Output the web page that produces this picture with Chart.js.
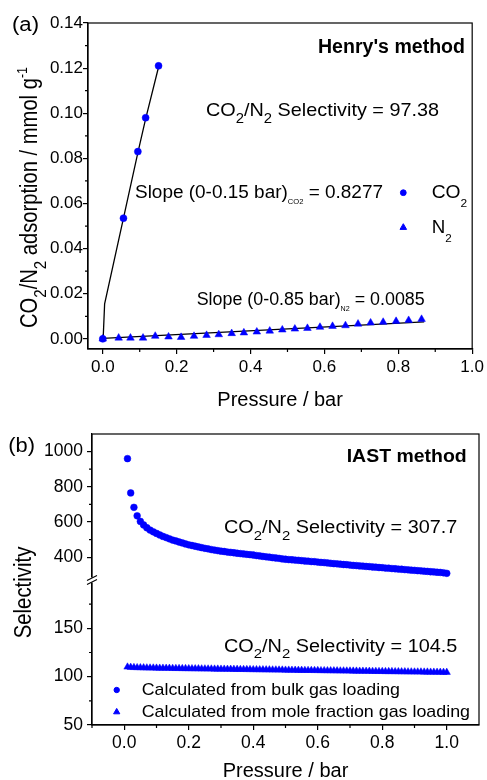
<!DOCTYPE html>
<html lang="en">
<head>
<meta charset="utf-8" />
<title>CO2/N2 selectivity – Henry's and IAST method</title>
<script src="https://cdn.jsdelivr.net/npm/chart.js@4.4.0/dist/chart.umd.min.js"></script>
<style>
  html, body { margin: 0; padding: 0; background: #fff; }
  #wrap { position: relative; width: 487px; height: 780px; overflow: hidden; }
  canvas { position: absolute; left: 0; }
  #chartA { top: 0; }
  #chartB { top: 412px; }
</style>
</head>
<body>
<div id="wrap">
  <canvas id="chartA" width="487" height="412"></canvas>
  <canvas id="chartB" width="487" height="368"></canvas>
</div>
<script>
// ---------- (a) Henry's method ----------
const co2Pressure = [0.0, 0.056, 0.095, 0.116, 0.151];
const co2Uptake   = [0.0, 0.0535, 0.083, 0.098, 0.121];
const n2Pressure = [0.0, 0.043, 0.075, 0.109, 0.142, 0.178, 0.212, 0.247, 0.281, 0.314, 0.349, 0.382, 0.417,
                    0.452, 0.486, 0.52, 0.554, 0.588, 0.622, 0.657, 0.691, 0.725, 0.759, 0.794, 0.828, 0.863];
const n2Uptake   = [0.0, 0.0004, 0.0004, 0.0004, 0.0012, 0.0009, 0.0007, 0.0012, 0.0016, 0.0019, 0.0024, 0.0027, 0.0031,
                    0.0035, 0.0040, 0.0044, 0.0047, 0.0052, 0.0056, 0.0059, 0.0066, 0.0071, 0.0074, 0.0078, 0.0082, 0.0087];
// fitted lines
const co2FitPressure = [0.001, 0.005, 0.056, 0.095, 0.116, 0.151];
const co2FitUptake   = [0.0, 0.0155, 0.0535, 0.0825, 0.0975, 0.1205];
const n2FitPressure = [0.0, 0.87];
const n2FitUptake   = [0.0002, 0.0075];

const xTicksA = [0, 0.2, 0.4, 0.6, 0.8, 1.0];
const xMinorA = [0.1, 0.3, 0.5, 0.7, 0.9];
const yTicksA = [0, 0.02, 0.04, 0.06, 0.08, 0.10, 0.12, 0.14];
const yMinorA = [0.01, 0.03, 0.05, 0.07, 0.09, 0.11, 0.13];

// ---------- (b) IAST method ----------
const iastPressure = [
  0.01, 0.02, 0.03, 0.04, 0.05, 0.06, 0.07, 0.08, 0.09, 0.10,
  0.11, 0.12, 0.13, 0.14, 0.15, 0.16, 0.17, 0.18, 0.19, 0.20,
  0.21, 0.22, 0.23, 0.24, 0.25, 0.26, 0.27, 0.28, 0.29, 0.30,
  0.31, 0.32, 0.33, 0.34, 0.35, 0.36, 0.37, 0.38, 0.39, 0.40,
  0.41, 0.42, 0.43, 0.44, 0.45, 0.46, 0.47, 0.48, 0.49, 0.50,
  0.51, 0.52, 0.53, 0.54, 0.55, 0.56, 0.57, 0.58, 0.59, 0.60,
  0.61, 0.62, 0.63, 0.64, 0.65, 0.66, 0.67, 0.68, 0.69, 0.70,
  0.71, 0.72, 0.73, 0.74, 0.75, 0.76, 0.77, 0.78, 0.79, 0.80,
  0.81, 0.82, 0.83, 0.84, 0.85, 0.86, 0.87, 0.88, 0.89, 0.90,
  0.91, 0.92, 0.93, 0.94, 0.95, 0.96, 0.97, 0.98, 0.99, 1.00
];
// Calculated from bulk gas loading
const bulkSelectivity = [
  960, 765, 683, 635, 603, 583, 567, 554, 544, 535,
  526, 518, 511, 504, 497, 492, 486, 481, 475, 470,
  466, 462, 458, 454, 450, 447, 443, 440, 437, 434,
  432, 429, 427, 425, 422, 420, 418, 416, 414, 412,
  409, 407, 404, 402, 400, 397, 395, 393, 390, 388,
  386, 385, 383, 382, 380, 378, 377, 375, 374, 372,
  370, 369, 367, 365, 363, 362, 360, 358, 357, 355,
  353, 352, 350, 349, 347, 346, 344, 343, 341, 340,
  338, 337, 335, 334, 332, 331, 329, 328, 326, 325,
  323, 322, 320, 319, 317, 316, 314, 313, 311, 308
];
// Calculated from mole fraction gas loading
const moleSelectivity = [
  110.0, 109.7, 109.5, 109.4, 109.3, 109.2, 109.1, 109.0, 109.0, 108.9,
  108.8, 108.8, 108.7, 108.7, 108.6, 108.5, 108.5, 108.4, 108.4, 108.3,
  108.3, 108.2, 108.2, 108.1, 108.1, 108.0, 108.0, 107.9, 107.9, 107.8,
  107.8, 107.7, 107.7, 107.6, 107.6, 107.5, 107.5, 107.4, 107.4, 107.3,
  107.3, 107.2, 107.2, 107.1, 107.1, 107.0, 107.0, 106.9, 106.9, 106.8,
  106.8, 106.7, 106.7, 106.6, 106.6, 106.5, 106.5, 106.5, 106.4, 106.4,
  106.3, 106.3, 106.2, 106.2, 106.1, 106.1, 106.0, 106.0, 105.9, 105.9,
  105.8, 105.8, 105.7, 105.7, 105.6, 105.6, 105.5, 105.5, 105.4, 105.4,
  105.3, 105.3, 105.3, 105.2, 105.2, 105.1, 105.1, 105.0, 105.0, 104.9,
  104.9, 104.9, 104.8, 104.8, 104.7, 104.7, 104.6, 104.6, 104.5, 104.5
];

const xTicksB = [0, 0.2, 0.4, 0.6, 0.8, 1.0];
const xMinorB = [-0.1, 0.1, 0.3, 0.5, 0.7, 0.9];
const yLowTicks = [50, 100, 150];
const yLowMinor = [75, 125, 175];
const yHighTicks = [400, 600, 800, 1000];
const yHighMinor = [500, 700, 900];

// ---------- helpers ----------
const FONT = '"Liberation Sans", Arial, Helvetica, sans-serif';
const BLUE = '#0000ff';
Chart.defaults.font.family = FONT;
Chart.defaults.color = '#000';

const pts = (xs, ys) => xs.map((x, i) => ({ x: x, y: ys[i] }));

const kinds = {
  n:    { k: 1,    dy: 0 },
  sub:  { k: 0.75, dy: 0.37 },
  lsub: { k: 0.62, dy: 0.5 },
  tiny: { k: 0.4,  dy: 0.33 },
  sup:  { k: 0.62, dy: -0.45 }
};

// text made of normal / sub / sup pieces, stretched to span a given width
function richText(ctx, parts, o) {
  const fnt = s => (o.bold ? 'bold ' : '') + s + 'px ' + FONT;
  let w = 0;
  parts.forEach(([t, kind]) => {
    ctx.font = fnt(o.size * kinds[kind || 'n'].k);
    w += ctx.measureText(t).width;
  });
  const hs = o.width ? o.width / w : 1;
  ctx.save();
  ctx.translate(o.x, o.y);
  if (o.rotate) ctx.rotate(o.rotate);
  ctx.scale(hs, o.vs || 1);
  ctx.fillStyle = '#000';
  ctx.textAlign = 'left';
  ctx.textBaseline = 'alphabetic';
  let cx = 0;
  parts.forEach(([t, kind]) => {
    const st = kinds[kind || 'n'];
    ctx.font = fnt(o.size * st.k);
    ctx.fillText(t, cx, st.dy * o.size);
    cx += ctx.measureText(t).width;
  });
  ctx.restore();
}

function drawMinor(chart, id, vals, len) {
  const s = chart.scales[id], ctx = chart.ctx;
  ctx.save();
  ctx.strokeStyle = '#000';
  ctx.lineWidth = 1.2;
  ctx.beginPath();
  vals.forEach(v => {
    const p = s.getPixelForValue(v);
    if (s.isHorizontal()) { ctx.moveTo(p, s.top); ctx.lineTo(p, s.top + len); }
    else { ctx.moveTo(s.right, p); ctx.lineTo(s.right - len, p); }
  });
  ctx.stroke();
  ctx.restore();
}

function drawFrame(chart) {
  const a = chart.chartArea, ctx = chart.ctx;
  ctx.save();
  ctx.strokeStyle = '#000';
  ctx.lineWidth = 1.2;
  ctx.strokeRect(a.left, a.top, a.right - a.left, a.bottom - a.top);
  ctx.restore();
}

function marker(ctx, style, r, x, y) {
  ctx.save();
  ctx.fillStyle = BLUE;
  ctx.strokeStyle = BLUE;
  Chart.helpers.drawPoint(ctx, { pointStyle: style, radius: r, rotation: 0, borderWidth: 0.5 }, x, y);
  ctx.restore();
}

function xAxis(min, max, ticks, height, titlePad, size) {
  return {
    type: 'linear', min: min, max: max,
    afterBuildTicks: s => { s.ticks = ticks.map(v => ({ value: v })); },
    afterFit: s => { s.height = height; },
    grid: { drawOnChartArea: false, drawTicks: true, tickLength: 5, color: '#000', lineWidth: 1.2 },
    border: { color: '#000', width: 1.2 },
    ticks: { font: { size: size }, color: '#000', padding: 3, maxRotation: 0, autoSkip: false,
             callback: v => Number(v).toFixed(1) },
    title: { display: true, text: 'Pressure / bar', color: '#000',
             font: { size: 20, lineHeight: 0.9 }, padding: { top: 0, bottom: titlePad } }
  };
}

function yAxis(min, max, ticks, width, pad, size, digits, extra) {
  return Object.assign({
    type: 'linear', position: 'left', min: min, max: max,
    afterBuildTicks: s => { s.ticks = ticks.map(v => ({ value: v })); },
    afterFit: s => { s.width = width; },
    grid: { drawOnChartArea: false, drawTicks: true, tickLength: 5, color: '#000', lineWidth: 1.2 },
    border: { color: '#000', width: 1.2 },
    ticks: { font: { size: size }, color: '#000', padding: pad, autoSkip: false,
             callback: v => Number(v).toFixed(digits) }
  }, extra || {});
}

// ---------- chart (a) ----------
const topA = 0;
new Chart(document.getElementById('chartA'), {
  type: 'scatter',
  data: {
    datasets: [
      { label: 'CO2', data: pts(co2Pressure, co2Uptake), pointStyle: 'circle', pointRadius: 3.5,
        backgroundColor: BLUE, borderColor: BLUE, borderWidth: 0.5 },
      { label: 'N2', data: pts(n2Pressure, n2Uptake), pointStyle: 'triangle', pointRadius: 4.4,
        backgroundColor: BLUE, borderColor: BLUE, borderWidth: 0.5 },
      { label: 'CO2 fit', data: pts(co2FitPressure, co2FitUptake), showLine: true, pointRadius: 0,
        borderColor: '#000', borderWidth: 1.3 },
      { label: 'N2 fit', data: pts(n2FitPressure, n2FitUptake), showLine: true, pointRadius: 0,
        borderColor: '#000', borderWidth: 1.3 }
    ]
  },
  options: {
    responsive: false,
    animation: false,
    devicePixelRatio: 1,
    layout: { padding: { top: 23, right: 12, left: 0, bottom: 0 } },
    plugins: { legend: { display: false }, tooltip: { enabled: false } },
    scales: {
      x: xAxis(-0.04, 1.0, xTicksA, 63, 3, 17),
      y: yAxis(-0.0045, 0.14, yTicksA, 88, 0, 17, 2)
    }
  },
  plugins: [{
    id: 'decorA',
    afterDraw(chart) {
      const ctx = chart.ctx, o = topA;
      drawFrame(chart);
      drawMinor(chart, 'x', xMinorA, 3);
      drawMinor(chart, 'y', yMinorA, 3);
      richText(ctx, [['(a)']], { x: 12, y: 31 - o, width: 27, size: 20 });
      richText(ctx, [["Henry's method"]], { x: 318, y: 52.5 - o, width: 147, size: 19.5, bold: true });
      richText(ctx, [['CO'], ['2', 'sub'], ['/N'], ['2', 'sub'], [' Selectivity = 97.38']],
               { x: 206, y: 116 - o, width: 233, size: 18.5 });
      richText(ctx, [['Slope (0-0.15 bar)'], ['CO2', 'tiny'], [' = 0.8277']],
               { x: 135, y: 198.3 - o, width: 248, size: 17.5 });
      richText(ctx, [['Slope (0-0.85 bar)'], ['N2', 'tiny'], [' = 0.0085']],
               { x: 196.7, y: 305 - o, width: 228, size: 17.5 });
      marker(ctx, 'circle', 2.9, 403.3, 192.7 - o);
      marker(ctx, 'triangle', 3.8, 403.3, 227.5 - o);
      richText(ctx, [['CO'], ['2', 'lsub']], { x: 431.7, y: 198.3 - o, width: 35.5, size: 18 });
      richText(ctx, [['N'], ['2', 'lsub']], { x: 431.7, y: 233.3 - o, width: 20, size: 18 });
      richText(ctx, [['CO'], ['2', 'sub'], ['/N'], ['2', 'sub'], [' adsorption / mmol g'], ['-1', 'sup']],
               { x: 37, y: 328 - o, width: 261, size: 20, rotate: -Math.PI / 2, vs: 1.15 });
    }
  }]
});

// ---------- chart (b) ----------
const topB = 412;
new Chart(document.getElementById('chartB'), {
  type: 'scatter',
  data: {
    datasets: [
      { label: 'Calculated from bulk gas loading', data: pts(iastPressure, bulkSelectivity), yAxisID: 'yHigh',
        pointStyle: 'circle', pointRadius: 3.4, backgroundColor: BLUE, borderColor: BLUE, borderWidth: 0.5 },
      { label: 'Calculated from mole fraction gas loading', data: pts(iastPressure, moleSelectivity), yAxisID: 'yLow',
        pointStyle: 'triangle', pointRadius: 4.2, backgroundColor: BLUE, borderColor: BLUE, borderWidth: 0.5 }
    ]
  },
  options: {
    responsive: false,
    animation: false,
    devicePixelRatio: 1,
    layout: { padding: { top: 22, right: 8, left: 0, bottom: 0 } },
    plugins: { legend: { display: false }, tooltip: { enabled: false } },
    scales: {
      x: xAxis(-0.1, 1.1, xTicksB, 55, 0, 17.5),
      yLow: yAxis(50, 200, yLowTicks, 92, 4, 17.5, 0, { stack: 'sel', stackWeight: 145 }),
      yHigh: yAxis(270, 1100, yHighTicks, 92, 4, 17.5, 0, { stack: 'sel', stackWeight: 146 })
    }
  },
  plugins: [{
    id: 'decorB',
    afterDraw(chart) {
      const ctx = chart.ctx, o = topB;
      drawFrame(chart);
      drawMinor(chart, 'x', xMinorB, 3);
      drawMinor(chart, 'yLow', yLowMinor, 3);
      drawMinor(chart, 'yHigh', yHighMinor, 3);
      // axis break marks
      const yb = chart.scales.yHigh.bottom, xb = chart.chartArea.left;
      ctx.save();
      ctx.fillStyle = '#fff';
      ctx.fillRect(xb - 2, yb - 2.5, 4, 5);
      ctx.strokeStyle = '#000';
      ctx.lineWidth = 1.1;
      ctx.beginPath();
      ctx.moveTo(xb - 5, yb + 0.5); ctx.lineTo(xb + 5, yb - 4.5);
      ctx.moveTo(xb - 5, yb + 4.5); ctx.lineTo(xb + 5, yb - 0.5);
      ctx.stroke();
      ctx.restore();

      richText(ctx, [['(b)']], { x: 8.3, y: 452 - o, width: 26.7, size: 20 });
      richText(ctx, [['IAST method']], { x: 346.7, y: 461.7 - o, width: 120, size: 18.5, bold: true });
      richText(ctx, [['CO'], ['2', 'sub'], ['/N'], ['2', 'sub'], [' Selectivity = 307.7']],
               { x: 224, y: 533.3 - o, width: 233.3, size: 18 });
      richText(ctx, [['CO'], ['2', 'sub'], ['/N'], ['2', 'sub'], [' Selectivity = 104.5']],
               { x: 224, y: 651.7 - o, width: 233.3, size: 18 });
      marker(ctx, 'circle', 2.7, 116.7, 690 - o);
      marker(ctx, 'triangle', 3.6, 116.7, 712 - o);
      richText(ctx, [['Calculated from bulk gas loading']], { x: 141.7, y: 695 - o, width: 258.3, size: 17 });
      richText(ctx, [['Calculated from mole fraction gas loading']], { x: 141.7, y: 716.7 - o, width: 328.3, size: 17 });
      richText(ctx, [['Selectivity']],
               { x: 31, y: 638.3 - o, width: 91.6, size: 20, rotate: -Math.PI / 2, vs: 1.15 });
    }
  }]
});
</script>
</body>
</html>
